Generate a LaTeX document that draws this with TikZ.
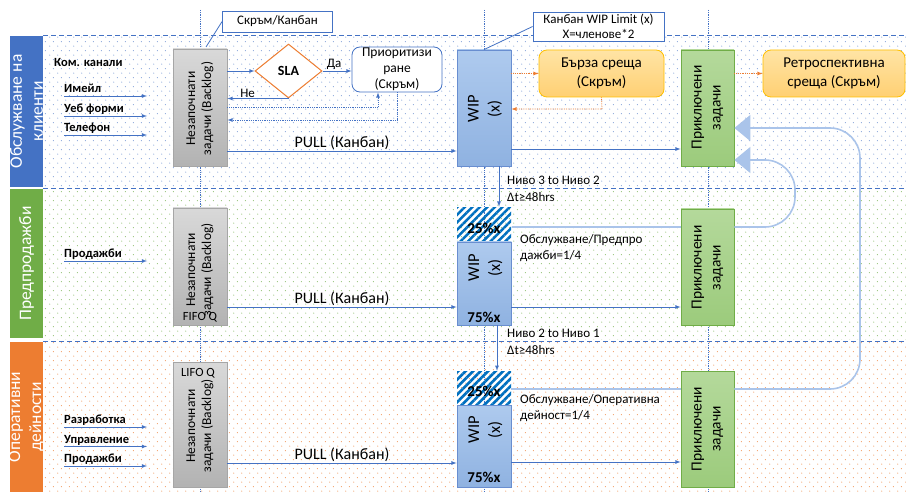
\documentclass[tikz,border=0pt]{standalone}
\usepackage{fontspec}
\setmainfont{Carlito}
\usetikzlibrary{arrows, arrows.meta, shapes.geometric, patterns.meta}
\definecolor{myblue}{RGB}{68,114,196}
\definecolor{mygreen}{RGB}{112,173,71}
\definecolor{myorange}{RGB}{237,125,49}
\definecolor{myloop}{RGB}{170,196,234}
\definecolor{myhatch}{RGB}{0,112,192}
\definecolor{mywipA}{RGB}{174,202,238}
\definecolor{mywipB}{RGB}{143,178,225}
\definecolor{mydoneA}{RGB}{180,217,155}
\definecolor{mydoneB}{RGB}{156,203,124}
\definecolor{mymeetA}{RGB}{255,228,165}
\definecolor{mymeetB}{RGB}{255,208,115}
\definecolor{mymeetC}{RGB}{255,192,0}

\tikzdeclarepattern{
  name=lanedots,
  type=uncolored,
  bounding box={(0pt,0pt) and (8pt,9.4pt)},
  tile size={(8pt,9.4pt)},
  code={
    \fill (2pt,2pt) circle (0.55pt);
    \fill (6pt,6.7pt) circle (0.55pt);
  }
}

\tikzset{
  lanebar/.style={inner sep=0pt, outer sep=0pt, minimum width=33},
  lanetext/.style={rotate=90, align=center, text=white, font=\fontsize{17.5}{21}\selectfont},
  lanesep/.style={myblue, line width=0.9pt, dash pattern=on 5pt off 3pt},
  colsep/.style={myblue, line width=0.8pt, densely dotted},
  backlog/.style={draw=black!35, line width=0.8pt, top color=black!15, bottom color=black!30, minimum width=54, inner sep=0pt},
  wip/.style={draw=myblue!80, line width=0.8pt, top color=mywipA, bottom color=mywipB, minimum width=54, inner sep=0pt},
  done/.style={draw=mygreen, line width=0.8pt, top color=mydoneA, bottom color=mydoneB, minimum width=53, minimum height=116, inner sep=0pt},
  hatch/.style={minimum width=54, minimum height=34, inner sep=0pt, pattern={Lines[angle=45,distance=5.3pt,line width=2.6pt]}, pattern color=myhatch},
  meet/.style={draw=mymeetC, line width=0.8pt, rounded corners=8pt, top color=mymeetA, bottom color=mymeetB, minimum height=47, inner sep=0pt, align=center, font=\fontsize{15}{19}\selectfont},
  prio/.style={draw=myblue, line width=0.8pt, rounded corners=8pt, fill=white, minimum width=90, minimum height=45, align=center, inner sep=0pt, font=\fontsize{13.5}{16}\selectfont},
  sla/.style={diamond, draw=myorange, line width=1pt, fill=white, minimum width=67, minimum height=54, inner sep=0pt, font=\bfseries\fontsize{14}{16}\selectfont},
  note/.style={draw=myblue, line width=0.8pt, fill=white, inner sep=0pt, align=center, font=\fontsize{13}{15.5}\selectfont},
  vtext/.style={rotate=90, align=center, inner sep=0pt, font=\fontsize{13.5}{16}\selectfont},
  wiptext/.style={vtext, font=\fontsize{16.5}{21}\selectfont},
  donetext/.style={vtext, font=\fontsize{15.5}{19}\selectfont},
  inlabel/.style={anchor=base west, inner sep=0pt, font=\bfseries\fontsize{12.5}{14}\selectfont},
  smalltext/.style={anchor=north west, align=left, inner sep=0pt, font=\fontsize{13}{17}\selectfont},
  pulltext/.style={above, inner sep=1pt, text=black, font=\fontsize{16}{18}\selectfont},
  yesno/.style={above, inner sep=1pt, text=black, font=\fontsize{13}{14}\selectfont},
  pct/.style={inner sep=0pt, font=\bfseries\fontsize{15}{17}\selectfont},
  qtext/.style={inner sep=0pt, font=\fontsize{12.5}{14}\selectfont},
  flow/.style={myblue, line width=0.8pt, -latex},
  dotflow/.style={flow, densely dotted},
  orangeflow/.style={myorange, line width=0.8pt, densely dotted, -latex},
  loopline/.style={myloop, line width=1.6pt},
  bigtip/.style={-{Triangle[length=16pt,width=26pt]}},
  callout/.style={myblue, line width=0.8pt},
}

\begin{document}
\begin{tikzpicture}[x=1pt, y=-1pt]
\useasboundingbox (0,0) rectangle (906,492);
\fill[white] (0,0) rectangle (906,492);

%the lanes:
\fill[pattern=lanedots, pattern color=myblue!85] (43,36) rectangle (906,187);
\fill[pattern=lanedots, pattern color=mygreen] (43,189) rectangle (906,339);
\fill[pattern=lanedots, pattern color=myorange] (43,342) rectangle (906,492);

\node[lanebar, fill=myblue, minimum height=151] (lane1) at (26.5,111.5) {};
\node[lanebar, fill=mygreen, minimum height=149] (lane2) at (26.5,263.5) {};
\node[lanebar, fill=myorange, minimum height=150] (lane3) at (26.5,417) {};
\node[lanetext] (lane1t) at (lane1) {Обслужване на\\клиенти};
\node[lanetext] (lane2t) at (lane2) {Предпродажби};
\node[lanetext] (lane3t) at (lane3) {Оперативни\\дейности};

\draw[lanesep] (43,35) -- (906,35);
\draw[lanesep] (43,188) -- (906,188);
\draw[lanesep] (43,341) -- (906,341);
\foreach \cx in {200,484,708}
  \draw[colsep] (\cx,10) -- (\cx,492);

%lane 1:
\node[backlog, minimum height=117] (bl1) at (200,107.5) {};
\node[vtext] (bl1t) at (200,108.5) {Незапочнати\\задачи (Backlog)};
\node[sla] (sla) at (288.5,71) {SLA};
\node[prio] (prio) at (397,69.5) {Приоритизи\\ране\\(Скръм)};
\node[wip, minimum height=116] (wip1) at (484,108) {};
\node[wiptext] (wip1t) at (485,109) {WIP\\(x)};
\node[meet, minimum width=125] (quick) at (601.5,73.5) {Бърза среща\\(Скръм)};
\node[done] (done1) at (707.5,108) {};
\node[donetext] (done1t) at (707.5,107.5) {Приключени\\задачи};
\node[meet, minimum width=142] (retro) at (834,73.5) {Ретроспективна\\среща (Скръм)};
\node[note, minimum width=110, minimum height=21] (scrum) at (277.5,21.5) {Скръм/Канбан};
\node[note, minimum width=131, minimum height=29] (wiplim) at (598.5,26.5) {Канбан WIP Limit (x)\\X=членове*2};

\coordinate (scrumTip) at (206,47);
\draw[callout] (scrum.west) -- (scrumTip);
\draw[callout] (wiplim.west) -- (wip1.north);

%inputs:
\node[inlabel] (kom) at (54,67) {Ком. канали};
\node[inlabel] (mail) at (64,92.5) {Имейл};
\node[inlabel] (web) at (64,112.5) {Уеб форми};
\node[inlabel] (phone) at (64,131.5) {Телефон};
\coordinate (mailEnd) at (147,96);
\coordinate (webEnd) at (147,116);
\coordinate (phoneEnd) at (147,135);
\draw[flow] (mail.west |- mailEnd) -- (mailEnd);
\draw[flow] (web.west |- webEnd) -- (webEnd);
\draw[flow] (phone.west |- phoneEnd) -- (phoneEnd);

\draw[flow] (bl1.east |- sla) -- (sla.west);
\draw[flow] (sla.east) -- (prio.west |- sla) node[pos=0.4, yesno] (yes) {Да};
\draw[flow] (sla.south) -- (bl1.east |- sla.south) node[pos=0.67, yesno] (no) {Не};
\coordinate (prioIn) at (378,107);
\coordinate (prioOut) at (397,120);
\draw[dotflow] (bl1.east |- prioIn) -- (prioIn) -- (prioIn |- prio.south);
\draw[dotflow] (prio.south) -- (prioOut) -- (bl1.east |- prioOut);

\draw[flow] (bl1.east |- 0,151) -- (wip1.west |- 0,151) node[midway, pulltext] (pull1) {PULL (Канбан)};
\coordinate (quickOut) at (602,109);
\draw[orangeflow] (wip1.east |- quick) -- (quick.west);
\draw[orangeflow] (quick.south) -- (quickOut) -- (wip1.east |- quickOut);
\draw[orangeflow] (done1.east |- retro) -- (retro.west);
\draw[flow] (wip1.east |- 0,149) -- (done1.west |- 0,149);

%lane 2:
\node[backlog, minimum height=117] (bl2) at (200,266.5) {};
\node[vtext] (bl2t) at (200,270) {Незапочнати\\задачи (Backlog)};
\node[qtext] (fifo) at (200,317) {FIFO Q};
\node[hatch] (hat2) at (484,225) {};
\node[wip, minimum height=83] (wip2) at (484,283.5) {};
\node[wiptext] (wip2t) at (485.5,268) {WIP\\(x)};
\node[pct] (p25b) at (484,228.5) {25\%x};
\node[pct] (p75b) at (484,317) {75\%x};
\node[done] (done2) at (707.5,267) {};
\node[donetext] (done2t) at (707.5,267.5) {Приключени\\задачи};

\node[inlabel] (sales2) at (64,257.5) {Продажби};
\coordinate (sales2End) at (147,261);
\draw[flow] (sales2.west |- sales2End) -- (sales2End);

\draw[flow] (bl2.east |- 0,307) -- (wip2.west |- 0,307) node[midway, pulltext] (pull2) {PULL (Канбан)};
\draw[flow] (wip2.east |- 0,307) -- (done2.west |- 0,307);
\draw[flow] (wip1.south -| 499,0) -- (hat2.north -| 499,0);
\node[smalltext] (lvl32) at (507,175.5) {Ниво 3 to Ниво 2\\Δt≥48hrs};
\node[smalltext, font=\fontsize{13}{16}\selectfont] (ratio2) at (520,234.5) {Обслужване/Предпро\\дажби=1/4};

%lane 3:
\node[backlog, minimum height=125] (bl3) at (200,424.5) {};
\node[vtext] (bl3t) at (200,426) {Незапочнати\\задачи (Backlog)};
\node[qtext] (lifo) at (198,373) {LIFO Q};
\node[hatch] (hat3) at (484,388) {};
\node[wip, minimum height=82] (wip3) at (484,446) {};
\node[wiptext] (wip3t) at (485.5,430) {WIP\\(x)};
\node[pct] (p25c) at (484,391.5) {25\%x};
\node[pct] (p75c) at (484,477.5) {75\%x};
\node[done] (done3) at (707.5,429) {};
\node[donetext] (done3t) at (707.5,429) {Приключени\\задачи};

\node[inlabel] (dev) at (64,423.5) {Разработка};
\node[inlabel] (mgmt) at (64,443) {Управление};
\node[inlabel] (sales3) at (64,462.5) {Продажби};
\coordinate (devEnd) at (147,427);
\coordinate (mgmtEnd) at (147,446.5);
\coordinate (sales3End) at (147,466);
\draw[flow] (dev.west |- devEnd) -- (devEnd);
\draw[flow] (mgmt.west |- mgmtEnd) -- (mgmtEnd);
\draw[flow] (sales3.west |- sales3End) -- (sales3End);

\draw[flow] (bl3.east |- 0,463) -- (wip3.west |- 0,463) node[midway, pulltext] (pull3) {PULL (Канбан)};
\draw[flow] (wip3.east |- 0,462) -- (done3.west |- 0,462);
\draw[flow] (wip2.south -| 497,0) -- (hat3.north -| 497,0);
\node[smalltext] (lvl21) at (507,328.5) {Ниво 2 to Ниво 1\\Δt≥48hrs};
\node[smalltext, font=\fontsize{13}{16}\selectfont] (ratio3) at (520,394.5) {Обслужване/Оперативна\\дейност=1/4};

%back to done:
\draw[loopline] (hat2.east |- 0,227) -- (done2.west |- 0,227);
\draw[loopline, bigtip, rounded corners=30pt] (done2.east |- 0,227) -- (795,227) -- (795,160) -- (done1.east |- 0,160);
\draw[loopline] (hat3.east |- 0,389) -- (done3.west |- 0,389);
\draw[loopline, bigtip, rounded corners=30pt] (done3.east |- 0,389) -- (860,389) -- (860,128) -- (done1.east |- 0,128);
\end{tikzpicture}
\end{document}
